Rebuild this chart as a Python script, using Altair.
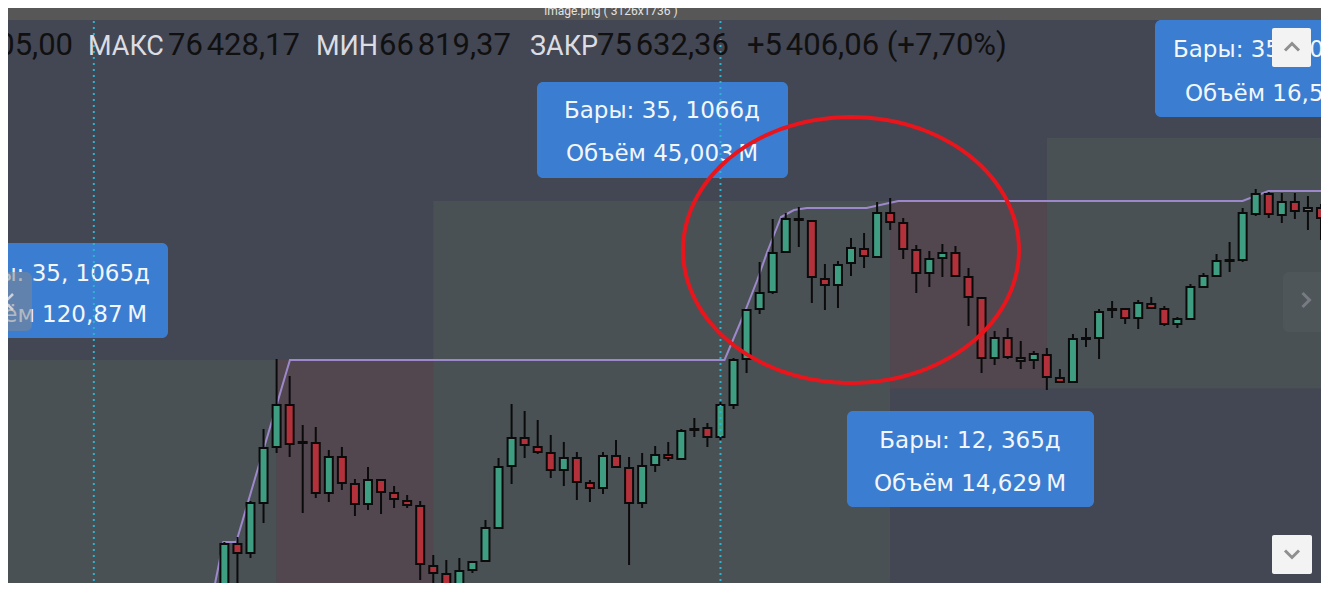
import math
import altair as alt
import pandas as pd

# ---------------- data ----------------
bar_index = list(range(85))
opens = [67800, 69120, 68940, 69940, 71060, 71900, 71140, 71140, 70140, 70860,
         70320, 69920, 70400, 70140, 69980, 69880, 68680, 68520, 68320, 68600,
         68780, 69440, 70680, 71240, 71060, 70940, 70600, 70840, 70340, 70240,
         70880, 70640, 69940, 70700, 70900, 70820, 71400, 71440, 71260, 71900,
         72820, 73820, 74160, 74960, 75600, 75580, 74420, 74300, 74740, 75020,
         74860, 75740, 75540, 75000, 74540, 74840, 74940, 74460, 74040, 72840,
         73240, 72840, 72800, 72900, 72440, 72360, 73220, 73240, 73800, 73820,
         73640, 73920, 73820, 73520, 73620, 74260, 74480, 74780, 74800, 75720,
         76120, 75700, 75960, 75780, 75840]
closes = [69120, 68940, 69940, 71040, 71900, 71120, 71160, 70140, 70860, 70340,
          69920, 70400, 70160, 70020, 69900, 68720, 68540, 68320, 68580, 68760,
          69440, 70660, 71240, 71100, 70960, 70600, 70840, 70360, 70240, 70880,
          70660, 69940, 70680, 70900, 70840, 71380, 71420, 71260, 71900, 72800,
          73800, 74140, 74940, 75620, 75620, 74460, 74300, 74700, 75040, 74880,
          75740, 75560, 75020, 74540, 74820, 74940, 74480, 74060, 72840, 73240,
          72860, 72780, 72920, 72460, 72360, 73220, 73240, 73760, 73820, 73640,
          73940, 73840, 73520, 73620, 74260, 74480, 74780, 74800, 75740, 76120,
          75720, 75960, 75780, 75840, 75640]
highs = [69160, 69260, 69980, 71420, 72820, 72480, 71500, 71460, 71000, 71060,
         70420, 70660, 70400, 70280, 70100, 69980, 68900, 68800, 68840, 68760,
         69600, 70840, 71920, 71780, 71600, 71300, 71160, 70960, 70400, 70960,
         71200, 70860, 70940, 71080, 71160, 71420, 71640, 71540, 71960, 72840,
         73800, 74760, 75620, 75740, 75860, 75580, 74720, 74780, 75240, 75340,
         75960, 76040, 75640, 75100, 74980, 75120, 75080, 74640, 74040, 73380,
         73440, 73180, 72980, 73040, 72620, 73320, 73440, 73820, 73980, 73820,
         74000, 74060, 73880, 73660, 74320, 74540, 74920, 75160, 75840, 76220,
         76160, 76140, 76140, 76080, 75920]
lows = [67600, 68000, 68840, 69540, 70940, 70860, 69740, 70040, 69960, 70200,
        69680, 69800, 69720, 69840, 69840, 68400, 68000, 68260, 68260, 68540,
        68780, 69440, 70320, 70840, 70920, 70440, 70280, 70000, 69960, 70120,
        70660, 68700, 69840, 70560, 70780, 70800, 71260, 71060, 71200, 71820,
        72540, 73720, 74120, 74960, 75060, 73940, 73800, 73840, 74480, 74640,
        74860, 75400, 74820, 74140, 74260, 74460, 74480, 73480, 72540, 72700,
        72820, 72620, 72620, 72200, 72340, 72360, 73060, 72820, 73640, 73520,
        73420, 73820, 73480, 73440, 73620, 74240, 74480, 74560, 74760, 75680,
        75640, 75540, 75620, 75400, 75200]

# shaded rally / drawdown zones
zone_start = [-20, 4, 16, 51, 63]
zone_end = [4, 16, 51, 63, 95]
zone_top = [72800, 72800, 75980, 75980, 77240]
zone_bottom = [66000, 66000, 66000, 72230, 72230]
zone_kind = ["up", "down", "up", "down", "up"]

# purple running-high line
line_x = [-1.0, -0.08, 0.91, 5.02, 38.31, 39.83, 40.82, 41.58, 42.64, 43.63,
          44.62, 49.19, 51.62, 77.99, 79.97, 90]
line_y = [67960, 69160, 69160, 72800, 72800, 73740, 74400, 74960, 75660, 75800,
          75840, 75840, 75980, 75980, 76180, 76180]

# dotted range markers (bar positions)
marker_bars = [-10, 38]

# header
header_prefix = "05,00"
header_labels = ["МАКС", "МИН", "ЗАКР"]
header_values = ["76\u202f428,17", "66\u202f819,37", "75\u202f632,36"]
header_change = "+5\u202f406,06 (+7,70%)"

# range label boxes
box_line1 = ["Бары: 35, 1065д", "Бары: 35, 1066д", "Бары: 12, 365д", "Бары: 35, 1066д"]
box_line2 = ["Объём 120,87\u202fM", "Объём 45,003\u202fM", "Объём 14,629\u202fM", "Объём 16,512\u202fM"]

# ---------------- styling ----------------
W, H = 1313, 575
BG = "#434653"
UP_ZONE = "#4a5154"
DOWN_ZONE = "#52474f"
UP = "#3f9d82"
DOWN = "#b3313a"
BOX = "#3b7ed1"
FONT = "Roboto"
BOX_FONT = "DejaVu Sans"

xs = alt.Scale(domain=[-16.192, 83.618], nice=False, zero=False)
ys = alt.Scale(domain=[68340, 79840], nice=False, zero=False)
X = lambda f: alt.X(f, type="quantitative", scale=xs, axis=None)
Y = lambda f: alt.Y(f, type="quantitative", scale=ys, axis=None)

candles = pd.DataFrame({"i": bar_index, "open": opens, "close": closes,
                        "high": highs, "low": lows})
zones = pd.DataFrame({"s": zone_start, "e": zone_end, "t": zone_top,
                      "b": zone_bottom, "k": zone_kind})
line_df = pd.DataFrame({"x": line_x, "y": line_y})
markers = pd.DataFrame({"i": marker_bars})

one = alt.Data(values=[{"a": 1}])


def px_rect(x, x2, y, y2, **kw):
    return alt.Chart(one).mark_rect(**kw).encode(
        x=alt.value(x), x2=alt.value(x2), y=alt.value(y), y2=alt.value(y2))


def px_text(text, x, y, **kw):
    return alt.Chart(one).mark_text(text=text, **kw).encode(
        x=alt.value(x), y=alt.value(y))


def px_shape(path, x, y, size, **kw):
    return alt.Chart(one).mark_point(shape=path, size=size, filled=False, **kw).encode(
        x=alt.value(x), y=alt.value(y))


layers = []

# zones
layers.append(alt.Chart(zones).mark_rect(clip=True).encode(
    x=X("s"), x2="e", y=Y("t"), y2="b",
    fill=alt.condition("datum.k == 'up'", alt.value(UP_ZONE), alt.value(DOWN_ZONE))))

# purple line
layers.append(alt.Chart(line_df).mark_line(color="#9d88cc", strokeWidth=2, clip=True).encode(
    x=X("x"), y=Y("y")))

# candles
base = alt.Chart(candles)
layers.append(base.mark_rule(color="#0b0b0b", strokeWidth=2, clip=True).encode(
    x=X("i"), y=Y("high"), y2="low"))
layers.append(base.mark_bar(size=8, clip=True).encode(
    x=X("i"), y=Y("open"), y2="close",
    fill=alt.condition("datum.close >= datum.open", alt.value(UP), alt.value(DOWN)),
    stroke=alt.value("#0b0b0b"), strokeWidth=alt.value(2), fillOpacity=alt.value(1)))

# label boxes
boxes = [(-28, 160, 235, 330), (529, 780, 74, 170), (839, 1086, 403, 499), (1147, 1400, 12, 109)]
for (a, b, c, d) in boxes:
    layers.append(px_rect(a, b, c, d, color=BOX, cornerRadius=6))
tstyle = dict(font=BOX_FONT, fontSize=23, color="#f3f6fb", baseline="alphabetic")
layers.append(px_text(box_line1[0], 142, 273, align="right", **tstyle))
layers.append(px_text(box_line2[0], 139, 314, align="right", **tstyle))
layers.append(px_text(box_line1[1], 654, 110, align="center", **tstyle))
layers.append(px_text(box_line2[1], 654, 153, align="center", **tstyle))
layers.append(px_text(box_line1[2], 962, 440, align="center", **tstyle))
layers.append(px_text(box_line2[2], 962, 483, align="center", **tstyle))
layers.append(px_text(box_line1[3], 1165, 49, align="left", **tstyle))
layers.append(px_text(box_line2[3], 1177, 93, align="left", **tstyle))

# dotted cyan markers
layers.append(alt.Chart(markers).mark_rule(color="#2bb3cf", strokeWidth=2, strokeDash=[2, 4]).encode(
    x=X("i"), y=alt.value(13), y2=alt.value(H)))

# red ellipse
rx, ry = 168, 133
pts = []
for k in range(121):
    t = 2 * math.pi * k / 120
    pts.append(f"{math.cos(t):.4f} {ry / rx * math.sin(t):.4f}")
ellipse_path = "M " + " L ".join(pts) + " Z"
layers.append(px_shape(ellipse_path, 843, 242, (2 * rx) ** 2, stroke="#e8151d", strokeWidth=4, opacity=1))

# nav buttons
layers.append(px_rect(-8, 24, 264, 323, color="#80858f", opacity=0.55, cornerRadius=6))
layers.append(px_shape("M 0.5 -1 L -0.5 0 L 0.5 1", 1, 294, 256, stroke="#cfd2d8", strokeWidth=2.5, opacity=1))
layers.append(px_rect(1275, 1330, 264, 324, color="#ffffff", opacity=0.03, cornerRadius=6))
layers.append(px_shape("M -0.5 -1 L 0.5 0 L -0.5 1", 1298, 292, 196, stroke="#777a83", strokeWidth=3, opacity=1))
layers.append(px_rect(1264, 1303, 20, 59, color="#f3f3f3", cornerRadius=2))
layers.append(px_shape("M -1 0.5 L 0 -0.5 L 1 0.5", 1284, 39, 196, stroke="#8f8f8f", strokeWidth=3, opacity=1))
layers.append(px_rect(1264, 1304, 527, 566, color="#f3f3f3", cornerRadius=2))
layers.append(px_shape("M -1 -0.5 L 0 0.5 L 1 -0.5", 1284, 546, 196, stroke="#8f8f8f", strokeWidth=3, opacity=1))

# top viewer bar
layers.append(px_rect(-8, W + 10, -8, 12, color="#575757"))
layers.append(px_text("image.png ( 3126x1736 )", 603, 3, font=FONT, fontSize=12,
                      color="#e2e2e2", align="center", baseline="middle"))

# header
DARK, LIGHT = "#101010", "#dcdde2"
vs = dict(font=FONT, fontSize=31, baseline="alphabetic", align="left")
ls = dict(font=FONT, fontSize=27, baseline="alphabetic", align="left")
layers.append(px_text(header_prefix, 65, 47, color=DARK, **{**vs, "align": "right"}))
lab_x = [80, 308, 522]
val_x = [160, 371, 589]
for lx, vx, lab, val in zip(lab_x, val_x, header_labels, header_values):
    layers.append(px_text(lab, lx, 47, color=LIGHT, **ls))
    layers.append(px_text(val, vx, 47, color=DARK, **vs))
layers.append(px_text(header_change, 739, 47, color=DARK, **vs))

chart = alt.layer(*layers).properties(
    width=W, height=H, background=BG, padding=0,
    autosize=alt.AutoSizeParams(type="none"),
).configure_view(stroke=None)

chart.save("out.html", embed_options={"renderer": "svg", "actions": False})
